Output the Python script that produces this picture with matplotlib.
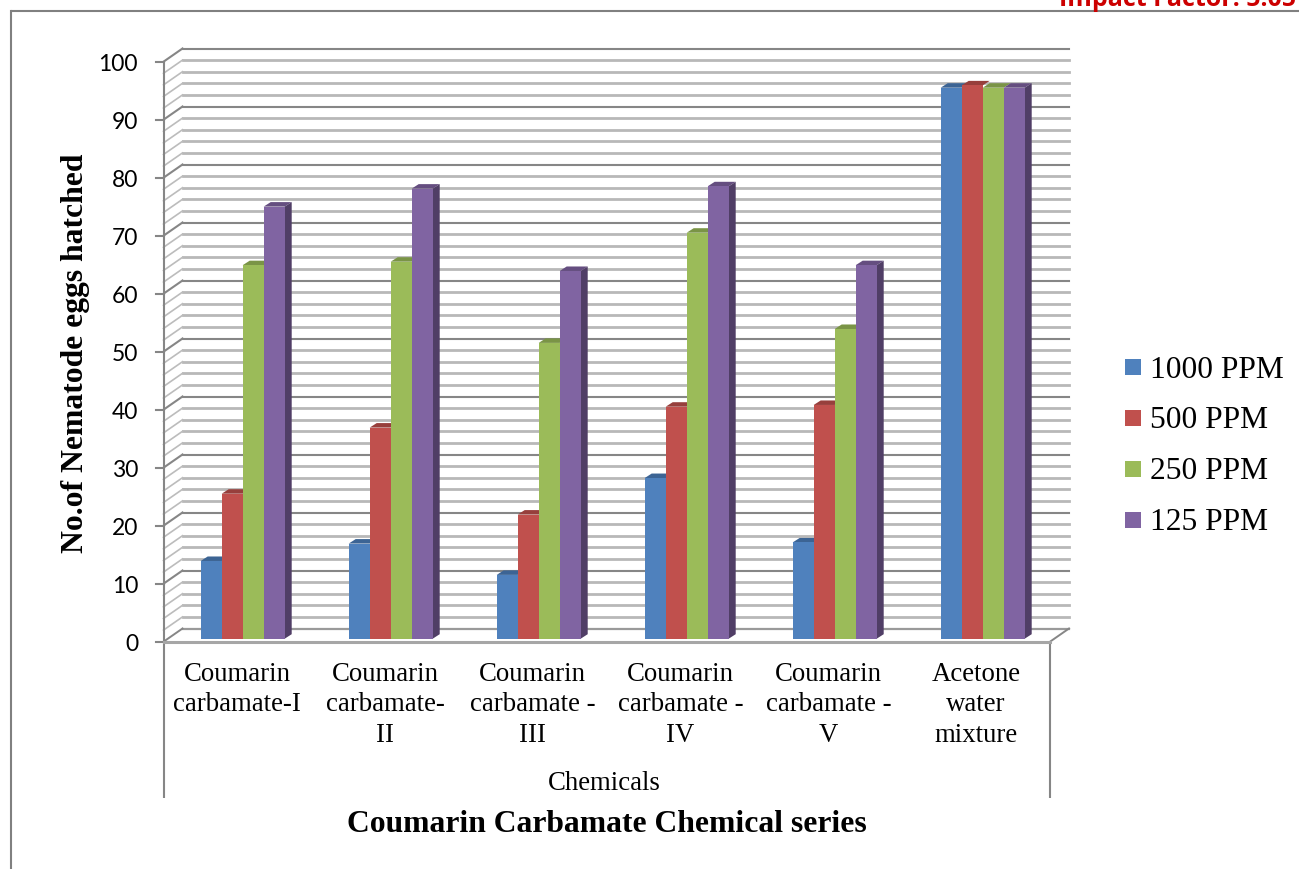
import numpy as np
import matplotlib
matplotlib.use("Agg")
import matplotlib.pyplot as plt
from matplotlib.patches import Polygon, Rectangle

categories = ["Coumarin\ncarbamate-I", "Coumarin\ncarbamate-\nII", "Coumarin\ncarbamate -\nIII",
              "Coumarin\ncarbamate -\nIV", "Coumarin\ncarbamate -\nV", "Acetone\nwater\nmixture"]
series_names = ["1000 PPM", "500 PPM", "250 PPM", "125 PPM"]
ppm_1000 = [13.4, 16.4, 11.0, 27.7, 16.6, 95.0]
ppm_500 = [25.0, 36.4, 21.4, 40.0, 40.3, 95.4]
ppm_250 = [64.4, 65.0, 51.0, 70.0, 53.4, 95.0]
ppm_125 = [74.5, 77.6, 63.4, 78.0, 64.4, 95.0]
all_series = [ppm_1000, ppm_500, ppm_250, ppm_125]

front_colors = ["#4f81bd", "#c0504d", "#9bbb59", "#8064a2"]
top_colors = ["#3c6494", "#973f3c", "#7a9446", "#654e80"]
side_colors = ["#2f4f75", "#773230", "#607537", "#503e66"]

W, H = 1299, 869
fig = plt.figure(figsize=(W/100, H/100), dpi=100)

# axes box: x 0-6 is the front floor edge, y 0-100 is the front of the side wall
px_left, px_right, px_y0, px_y100 = 163.5, 1050, 641.7, 61.7
ax = fig.add_axes([px_left/W, 1-px_y0/H, (px_right-px_left)/W, (px_y0-px_y100)/H])
ax.set_xlim(0, 6)
ax.set_ylim(0, 100)
ax.axis("off")

xunit = 6/(px_right-px_left)
yunit = 100/(px_y0-px_y100)
depth_x = 19*xunit
depth_y = 13.2*yunit
axis_col = "#868686"

# back wall and side wall grid
for v in np.arange(2, 102, 2):
    major = v % 10 == 0
    back_col = axis_col if major else "#b8b8b8"
    side_col = axis_col if major else "#bcbcbc"
    ax.plot([depth_x, 6+depth_x], [v+depth_y, v+depth_y], color=back_col, lw=1.5 if major else 2.0,
            clip_on=False, zorder=1)
    ax.plot([0, depth_x], [v, v+depth_y], color=side_col, lw=1.5 if major else 1.2,
            clip_on=False, zorder=1)
    if major:
        ax.plot([-8*xunit, 0], [v, v], color=axis_col, lw=1.5, clip_on=False, zorder=1)

# floor
ax.plot([-8*xunit, 0], [0, 0], color=axis_col, lw=1.5, clip_on=False, zorder=1)
ax.plot([depth_x, 6+depth_x], [depth_y, depth_y], color="#9a9a9a", lw=1.6, clip_on=False, zorder=1.6)
ax.plot([0, depth_x], [0, depth_y], color=axis_col, lw=1.4, clip_on=False, zorder=1.6)
ax.plot([6, 6+depth_x], [0, depth_y], color=axis_col, lw=1.4, clip_on=False, zorder=1.6)

# bars, with a small oblique top and side
bar_w = 21*xunit
bar_dx = 7*xunit
bar_dy = 4.5*yunit
base = 3.0*yunit
first_x = (200.7-px_left)*xunit
step = 148*xunit
for s, vals in enumerate(all_series):
    for i, v in enumerate(vals):
        x0 = first_x + i*step + s*bar_w
        top = base + v
        ax.add_patch(Polygon([(x0, top), (x0+bar_dx, top+bar_dy), (x0+bar_w+bar_dx, top+bar_dy), (x0+bar_w, top)],
                             closed=True, fc=top_colors[s], ec="none", zorder=3+s*0.1, clip_on=False))
        if s == 3:
            ax.add_patch(Polygon([(x0+bar_w, base), (x0+bar_w+bar_dx, base+bar_dy), (x0+bar_w+bar_dx, top+bar_dy), (x0+bar_w, top)],
                                 closed=True, fc=side_colors[s], ec="none", zorder=3.5, clip_on=False))
        ax.add_patch(Rectangle((x0, base), bar_w, v, fc=front_colors[s], ec="none", zorder=4, clip_on=False))

# axes lines
line_bottom = 797.7
drop = (px_y0-line_bottom)*yunit
ax.plot([0, 0], [100, drop], color=axis_col, lw=1.5, clip_on=False, zorder=5, solid_capstyle="butt")
ax.plot([6, 6], [0, drop], color=axis_col, lw=1.5, clip_on=False, zorder=5, solid_capstyle="butt")
ax.plot([0, 6], [0, 0], color="#a6a6a6", lw=2.2, clip_on=False, zorder=5)

# y tick labels
for v in range(0, 101, 10):
    ax.text(-25.5*xunit, v-1*yunit, str(v), ha="right", va="center_baseline", fontsize=16.5, family="Lato",
            color="black", clip_on=False)

# category labels
for i, name in enumerate(categories):
    ax.text(i+0.5, -20*yunit, name, ha="center", va="top", fontsize=19.3, family="Liberation Serif",
            linespacing=1.29, clip_on=False)


def fx(x):
    return x/W


def fy(y):
    return 1-y/H


fig.text(fx(604), fy(783), "Chemicals", ha="center", va="center", fontsize=19.3, family="Liberation Serif")
fig.text(fx(607), fy(825), "Coumarin Carbamate Chemical series", ha="center", va="center", fontsize=22.8,
         family="Liberation Serif", weight="bold")
fig.text(fx(76), fy(353), "No.of Nematode eggs hatched", rotation=90, ha="center", va="center", fontsize=22.8,
         family="Liberation Serif", weight="bold")

# legend
legend_y = [367, 418, 469, 520]
for name, col, y in zip(series_names, front_colors, legend_y):
    fig.patches.append(Rectangle((fx(1125), fy(y+8)), 16/W, 16/H, transform=fig.transFigure, fc=col, ec="none"))
    fig.text(fx(1150), fy(y+3), name, ha="left", va="center", fontsize=22.7, family="Liberation Serif")

# page frame and journal text cut by the top edge
fig.add_artist(plt.Line2D([fx(11.5), fx(1299)], [fy(11), fy(11)], color="#808080", lw=1.5))
fig.add_artist(plt.Line2D([fx(11), fx(11)], [fy(11), fy(869)], color="#808080", lw=1.5))
fig.text(fx(1296), fy(5.5), "Impact Factor: 5.05", ha="right", va="baseline", fontsize=18, weight="bold",
         family="Open Sans", color="#cc0000")

fig.savefig("out.png", dpi=100)
